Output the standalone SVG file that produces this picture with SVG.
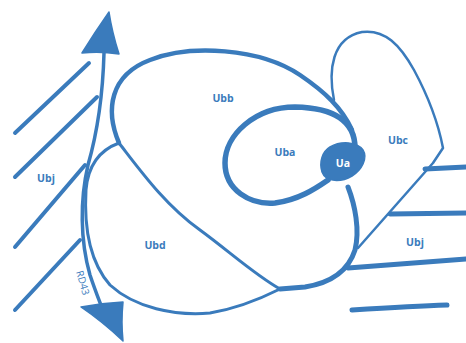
<svg xmlns="http://www.w3.org/2000/svg" width="466" height="343" viewBox="0 0 466 343">
<style>
.s{fill:none;stroke:#3a7bbc;stroke-linecap:round;stroke-linejoin:round}
.f{fill:#3a7bbc;stroke:#3a7bbc;stroke-width:1.5;stroke-linejoin:round}
.t{font-family:"Open Sans","Liberation Sans",sans-serif;font-weight:700;font-size:10.5px;fill:#3a7bbc;text-anchor:middle}
</style>
<rect width="466" height="343" fill="#ffffff"/>
<g id="connectors">
  <g id="ubj-left-lines">
    <path class="s" stroke-width="4" d="M15,133 L89,63"/>
    <path class="s" stroke-width="4" d="M15,177 L97,97"/>
    <path class="s" stroke-width="4" d="M15,247 L85,165"/>
    <path class="s" stroke-width="4" d="M15,310 L80,240"/>
  </g>
  <g id="ubj-right-lines">
    <path class="s" stroke-width="5" d="M425,169 L466,167"/>
    <path class="s" stroke-width="5" d="M390,214 L466,213"/>
    <path class="s" stroke-width="5" d="M348,268 C390,265 430,262 466,259"/>
    <path class="s" stroke-width="5" d="M352,310 C385,308 420,306 447,305"/>
  </g>
  <g id="rd43">
    <path class="s" stroke-width="3.5" d="M104,53 C103,90 98,130 88,165 C80,200 80,240 90,275 C95,290 99,300 102,308"/>
    <path class="f" d="M109,12 Q95,32 82,53 Q100,51 119,54 Q112,32 109,12 Z"/>
    <path class="f" d="M81,307 Q102,303 123,302 Q121,322 123,341 Q103,322 81,307 Z"/>
    <text class="t" style="font-weight:400;font-size:10px" dominant-baseline="middle" transform="translate(82,283) rotate(74)">RD43</text>
  </g>
</g>
<g id="Ubb">
  <path class="s" stroke-width="4.5" d="M119,143 C105,110 110,75 150,60 C190,44 260,48 300,75 C325,92 342,108 352,130"/>
  <path class="s" stroke-width="3" d="M119,143 C140,170 165,205 200,230 C230,252 255,275 280,289"/>
  <text class="t" x="223" y="102">Ubb</text>
</g>
<g id="Uba">
  <path class="s" stroke-width="5.5" d="M355,148 C355,125 340,108 295,107 C255,107 225,135 225,163 C225,190 250,205 275,203 C298,200 315,189 328,180"/>
  <text class="t" x="285" y="156">Uba</text>
</g>
<g id="Ua">
  <path class="f" d="M330,147 C340,141 357,141 363,150 C368,158 362,170 352,176 C342,182 326,183 322,172 C319,162 322,152 330,147 Z"/>
  <text class="t" x="343" y="167" style="fill:#ffffff">Ua</text>
</g>
<g id="Ubc">
  <path class="s" stroke-width="2.5" d="M334,100 C328,70 332,38 362,32 C385,29 400,45 414,70 C428,96 438,122 443,148 L433,163 L358,248"/>
  <text class="t" x="398" y="144">Ubc</text>
</g>
<g id="Ubd">
  <path class="s" stroke-width="3" d="M119,143 C100,150 88,165 86,190 C84,225 88,260 110,285 C135,308 175,316 210,313 C240,308 262,298 280,289"/>
  <path class="s" stroke-width="5" d="M348,187 C355,205 360,230 355,250 C348,272 330,283 305,287 L280,289"/>
  <text class="t" x="155" y="249">Ubd</text>
</g>
<g id="Ubj">
  <text class="t" x="46" y="182">Ubj</text>
  <text class="t" x="415" y="246">Ubj</text>
</g>
</svg>
